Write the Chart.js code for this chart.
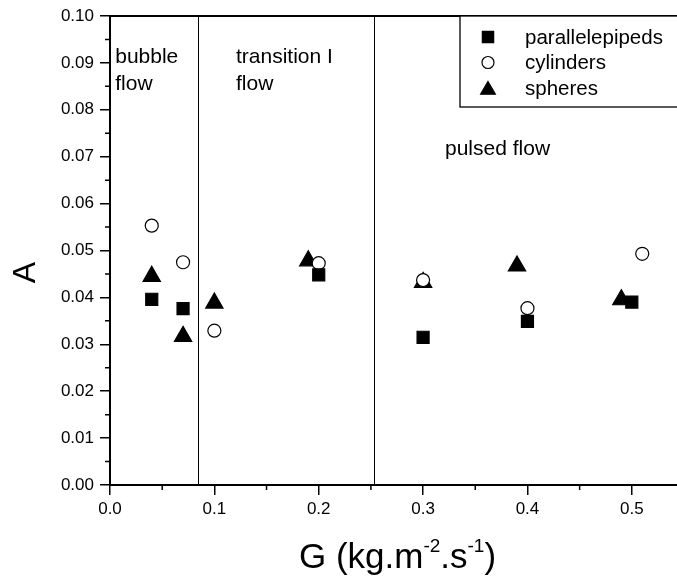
<!DOCTYPE html>
<html>
<head>
<meta charset="utf-8">
<script src="https://cdn.jsdelivr.net/npm/chart.js@4.4.0/dist/chart.umd.min.js"></script>
<style>
  html, body { margin: 0; padding: 0; background: #fff; }
  #wrap { width: 677px; height: 579px; }
</style>
</head>
<body>
<div id="wrap"><canvas id="myChart" width="677" height="579"></canvas></div>
<script>
// data
const seriesNames = ['parallelepipeds', 'cylinders', 'spheres'];

const paraX = [0.04, 0.07, 0.20, 0.30, 0.40, 0.50];
const paraY = [0.0396, 0.0376, 0.0448, 0.0315, 0.0349, 0.0390];

const cylX = [0.04, 0.07, 0.10, 0.20, 0.30, 0.40, 0.51];
const cylY = [0.0553, 0.0475, 0.0329, 0.0473, 0.0437, 0.0377, 0.0493];

const sphX = [0.04, 0.07, 0.10, 0.19, 0.30, 0.39, 0.49];
const sphY = [0.0445, 0.0317, 0.0388, 0.0478, 0.0432, 0.0467, 0.0395];

const xTicks = [0.0, 0.1, 0.2, 0.3, 0.4, 0.5];
const xMinor = [0.05, 0.15, 0.25, 0.35, 0.45];
const yTicks = [0.00, 0.01, 0.02, 0.03, 0.04, 0.05, 0.06, 0.07, 0.08, 0.09, 0.10];
const yMinor = [0.005, 0.015, 0.025, 0.035, 0.045, 0.055, 0.065, 0.075, 0.085, 0.095];

// flow regime boundaries
const regimeBounds = [0.0846, 0.2533];

function pts(xs, ys) {
    return xs.map((x, i) => ({ x: x, y: ys[i] }));
}

const styles = [
    { pointStyle: 'rect', radius: 8.5, bg: '#000', legendRadius: 8 },
    { pointStyle: 'circle', radius: 6.5, bg: '#fff', legendRadius: 6 },
    { pointStyle: 'triangle', radius: 10, bg: '#000', legendRadius: 8.5 }
];

const allData = [pts(paraX, paraY), pts(cylX, cylY), pts(sphX, sphY)];

const data = {
    datasets: seriesNames.map((name, i) => ({
        label: name,
        data: allData[i],
        pointStyle: styles[i].pointStyle,
        pointRadius: styles[i].radius,
        pointHoverRadius: styles[i].radius,
        backgroundColor: styles[i].bg,
        borderColor: '#000',
        pointBorderWidth: 1.2,
        showLine: false
    }))
};

const FONT = 'Liberation Sans, Arial, sans-serif';

// region labels, anchored in data units
const regionLabels = [
    { lines: ['bubble', 'flow'], x: 0.005, y: 0.0900 },
    { lines: ['transition I', 'flow'], x: 0.1207, y: 0.0900 },
    { lines: ['pulsed flow'], x: 0.321, y: 0.0704 }
];

const decor = {
    id: 'decor',
    afterDraw(chart) {
        const ctx = chart.ctx;
        const area = chart.chartArea;
        const xs = chart.scales.x, ys = chart.scales.y;
        ctx.save();

        // top frame line
        ctx.strokeStyle = '#000';
        ctx.lineWidth = 2;
        ctx.beginPath();
        ctx.moveTo(area.left - 1, area.top);
        ctx.lineTo(area.right, area.top);
        ctx.stroke();

        // minor ticks
        ctx.lineWidth = 1.5;
        ctx.beginPath();
        xMinor.forEach(v => {
            const px = xs.getPixelForValue(v);
            ctx.moveTo(px, area.bottom);
            ctx.lineTo(px, area.bottom + 5);
        });
        yMinor.forEach(v => {
            const py = ys.getPixelForValue(v);
            ctx.moveTo(area.left, py);
            ctx.lineTo(area.left - 5, py);
        });
        ctx.stroke();

        // regime boundaries
        ctx.lineWidth = 1;
        ctx.beginPath();
        regimeBounds.forEach(v => {
            const px = Math.round(xs.getPixelForValue(v)) + 0.5;
            ctx.moveTo(px, area.top);
            ctx.lineTo(px, area.bottom);
        });
        ctx.stroke();

        // region labels
        ctx.fillStyle = '#000';
        ctx.font = '21px ' + FONT;
        ctx.textAlign = 'left';
        ctx.textBaseline = 'alphabetic';
        regionLabels.forEach(l => {
            const px = xs.getPixelForValue(l.x);
            const py = ys.getPixelForValue(l.y);
            l.lines.forEach((t, i) => ctx.fillText(t, px, py + i * 27));
        });

        // legend box
        const lx = area.right - 217, ly = area.top, lh = 91;
        ctx.fillStyle = '#fff';
        ctx.fillRect(lx, ly, area.right - lx + 5, lh);
        ctx.strokeStyle = '#000';
        ctx.lineWidth = 1.3;
        ctx.strokeRect(lx, ly, area.right - lx + 5, lh);
        seriesNames.forEach((name, i) => {
            const cy = ly + 21 + i * 25.5;
            ctx.fillStyle = styles[i].bg;
            ctx.strokeStyle = '#000';
            ctx.lineWidth = 1.2;
            Chart.helpers.drawPoint(ctx, {
                pointStyle: styles[i].pointStyle,
                radius: styles[i].legendRadius,
                borderWidth: 1.2
            }, lx + 28, cy + (styles[i].pointStyle === 'triangle' ? 2 : 0));
            ctx.fillStyle = '#000';
            ctx.font = '20.5px ' + FONT;
            ctx.textBaseline = 'middle';
            ctx.fillText(name, lx + 65, cy + 1);
        });

        // y axis title
        ctx.save();
        ctx.translate(26, (area.top + area.bottom) / 2 + 22);
        ctx.rotate(-Math.PI / 2);
        ctx.font = '32px ' + FONT;
        ctx.textAlign = 'center';
        ctx.textBaseline = 'middle';
        ctx.fillStyle = '#000';
        ctx.fillText('A', 0, 0);
        ctx.restore();

        // x axis title with superscripts
        const parts = [
            { t: 'G (kg.m', sup: false },
            { t: '-2', sup: true },
            { t: '.s', sup: false },
            { t: '-1', sup: true },
            { t: ')', sup: false }
        ];
        const mainFont = '35px ' + FONT, supFont = '19px ' + FONT;
        let total = 0;
        parts.forEach(p => {
            ctx.font = p.sup ? supFont : mainFont;
            p.w = ctx.measureText(p.t).width;
            total += p.w;
        });
        let cx = (area.left + area.right) / 2 + 4 - total / 2;
        const base = 568;
        ctx.textAlign = 'left';
        ctx.textBaseline = 'alphabetic';
        ctx.fillStyle = '#000';
        parts.forEach(p => {
            ctx.font = p.sup ? supFont : mainFont;
            ctx.fillText(p.t, cx, p.sup ? base - 16 : base);
            cx += p.w;
        });

        ctx.restore();
    }
};

const config = {
    type: 'scatter',
    data: data,
    options: {
        animation: false,
        responsive: false,
        layout: { autoPadding: false, padding: { top: 16, right: 0, left: 0, bottom: 0 } },
        plugins: {
            legend: { display: false },
            tooltip: { enabled: false }
        },
        scales: {
            x: {
                type: 'linear',
                min: 0,
                max: 0.5433,
                afterBuildTicks: s => { s.ticks = xTicks.map(v => ({ value: v })); },
                afterFit: s => { s.height = 94; s.paddingLeft = 0; s.paddingRight = 0; },
                border: { display: true, color: '#000', width: 2 },
                grid: { display: true, drawOnChartArea: false, drawTicks: true, tickLength: 10, color: '#000', lineWidth: 1.5 },
                ticks: {
                    color: '#000',
                    font: { family: FONT, size: 17 },
                    padding: 4,
                    maxRotation: 0,
                    callback: v => v.toFixed(1)
                }
            },
            y: {
                type: 'linear',
                min: 0,
                max: 0.1,
                afterBuildTicks: s => { s.ticks = yTicks.map(v => ({ value: v })); },
                afterFit: s => { s.width = 110; s.paddingTop = 0; s.paddingBottom = 0; },
                border: { display: true, color: '#000', width: 2 },
                grid: { display: true, drawOnChartArea: false, drawTicks: true, tickLength: 10, color: '#000', lineWidth: 1.5 },
                ticks: {
                    color: '#000',
                    font: { family: FONT, size: 17 },
                    padding: 6,
                    callback: v => v.toFixed(2)
                }
            }
        }
    },
    plugins: [decor]
};

var myChart;

window.addEventListener('load', _ => {
    if (!myChart) {
        myChart = new Chart(document.getElementById('myChart').getContext('2d'), config);
    }
});
</script>
</body>
</html>
